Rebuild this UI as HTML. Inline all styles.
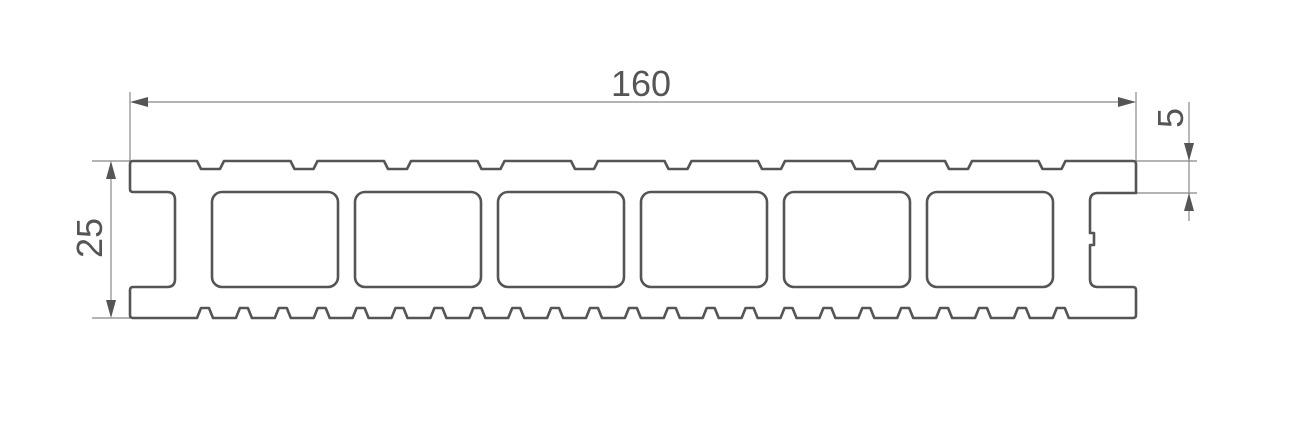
<!DOCTYPE html>
<html><head><meta charset="utf-8"><style>
html,body{margin:0;padding:0;background:#fff;width:1307px;height:444px;overflow:hidden}
text{font-family:"Liberation Sans",sans-serif;fill:#555}
</style></head><body>
<svg id="s" width="1307" height="444" viewBox="0 0 1307 444" xmlns="http://www.w3.org/2000/svg">
<g stroke="#888" stroke-width="1.2" fill="none">
<line x1="130" y1="92" x2="130" y2="161"/>
<line x1="1136" y1="92" x2="1136" y2="161"/>
<line x1="132" y1="102" x2="1134" y2="102"/>
<line x1="92" y1="161" x2="130" y2="161"/>
<line x1="92" y1="318" x2="130" y2="318"/>
<line x1="111" y1="163" x2="111" y2="316"/>
<line x1="1136" y1="161" x2="1197" y2="161"/>
<line x1="1136" y1="193" x2="1197" y2="193"/>
<line x1="1189" y1="102" x2="1189" y2="221"/>
</g>
<g fill="#555">
<polygon points="130,102 148,97 148,107"/>
<polygon points="1136,102 1118,97 1118,107"/>
<polygon points="111,161 106,179 116,179"/>
<polygon points="111,318 106,300 116,300"/>
<polygon points="1189,161 1184,143 1194,143"/>
<polygon points="1189,193 1184,211 1194,211"/>
</g>
<text x="641" y="96" font-size="36" text-anchor="middle">160</text>
<text transform="translate(102,238) rotate(-90)" font-size="36" text-anchor="middle">25</text>
<text transform="translate(1183,118) rotate(-90)" font-size="36" text-anchor="middle">5</text>
<path id="outline" fill="none" stroke="#555" stroke-width="2.6" stroke-linejoin="round"/>
<g id="holes" fill="none" stroke="#555" stroke-width="2.6"></g>
</svg>
<script>
var d="M130,164 Q130,161 133,161";
for(var i=0;i<10;i++){var s=197+93.5*i;d+=" L"+s+",161 L"+(s+4)+",169 L"+(s+23)+",169 L"+(s+27)+",161";}
d+=" L1133,161 Q1136,161 1136,164 L1136,193 L1098,193 Q1090,193 1090,201 L1090,233 L1094,233 L1094,245 L1090,245 L1090,279 Q1090,287 1098,287 L1133,287 Q1136,287 1136,290 L1136,315 Q1136,318 1133,318";
for(var i=22;i>=0;i--){var s=197+38.9*i;d+=" L"+(s+16)+",318 L"+(s+12)+",308 L"+(s+4)+",308 L"+s+",318";}
d+=" L133,318 Q130,318 130,315 L130,290 Q130,287 133,287 L167,287 Q175,287 175,279 L175,200 Q175,192 167,192 L133,192 Q130,192 130,189 Z";
document.getElementById("outline").setAttribute("d",d);
var h="";for(var i=0;i<6;i++){h+='<rect x="'+(212+143*i)+'" y="192" width="126" height="95" rx="10" ry="10"/>';}
document.getElementById("holes").innerHTML=h;
</script>
</body></html>
